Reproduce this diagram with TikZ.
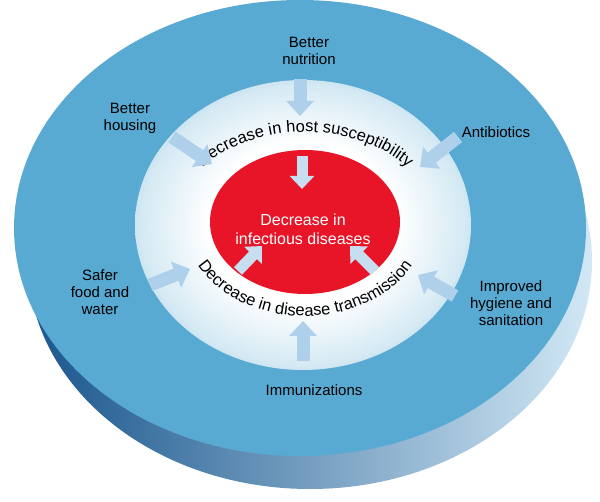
\documentclass[tikz,border=0pt]{standalone}
\usepackage{fontspec}
\setmainfont{Liberation Sans}
\usetikzlibrary{arrows.meta,decorations.text}
\definecolor{disk}{RGB}{88,170,210}
\definecolor{diskdark}{RGB}{25,85,140}
\definecolor{disklight}{RGB}{210,232,245}
\definecolor{redc}{RGB}{232,20,40}
\definecolor{arr}{RGB}{175,208,235}
\pgfdeclareradialshading{glow}{\pgfpoint{0bp}{0bp}}{color(0bp)=(white);color(14bp)=(white);color(24bp)=(white!75!disk);color(30bp)=(white!45!disk);color(35bp)=(disk);color(50bp)=(disk)}
\tikzset{
 lab/.style={font=\fontsize{15}{17}\selectfont, align=center, text=black},
 bigarr/.style={line width=13pt, arr, -{Triangle[length=15pt,width=27pt]}},
 smallarr/.style={line width=11pt, arr!70!white, -{Triangle[length=13pt,width=24pt]}},
}
\begin{document}
\begin{tikzpicture}[x=1pt,y=1pt]
\useasboundingbox (0,0) rectangle (600,501);
\fill[white] (0,0) rectangle (600,501);
% side of disk
\shade[left color=diskdark, right color=disklight] (310,240) ellipse [x radius=282, y radius=228];
\fill[disk] (300,273) ellipse [x radius=286, y radius=228];
% inner glow
\shade[shading=glow] (303,276) ellipse [x radius=168, y radius=145];
% red
\fill[redc] (305,279) ellipse [x radius=95, y radius=72];
\node[lab, text=white, font=\fontsize{16}{19}\selectfont] (red) at (303,272) {Decrease in\\infectious diseases};
% curved texts
\path[decorate, decoration={text along path, text align=center,
  text={|\fontsize{16.5}{18}\selectfont|Decrease in host susceptibility}}]
  (305,279) ++(175:129 and 90) arc[start angle=175, end angle=5, x radius=129, y radius=90];
\path[decorate, decoration={text along path, text align=center,
  text={|\fontsize{16.5}{18}\selectfont|Decrease in disease transmission}}]
  (305,279) ++(180:121 and 94) arc[start angle=180, end angle=360, x radius=121, y radius=94];
% labels
\node[lab] (nut) at (309,450) {Better\\nutrition};
\node[lab] (hou) at (130,383) {Better\\housing};
\node[lab] (ant) at (496,369) {Antibiotics};
\node[lab] (saf) at (100,209) {Safer\\food and\\water};
\node[lab] (hyg) at (511,198) {Improved\\hygiene and\\sanitation};
\node[lab] (imm) at (314,111) {Immunizations};
% outer arrows
\coordinate (a1s) at (300,422); \coordinate (a1e) at (300,385);
\coordinate (a2s) at (172,364); \coordinate (a2e) at (212,337);
\coordinate (a3s) at (458,364); \coordinate (a3e) at (420,334);
\coordinate (a4s) at (150,216); \coordinate (a4e) at (190,232);
\coordinate (a5s) at (455,205); \coordinate (a5e) at (418,226);
\coordinate (a6s) at (303,140); \coordinate (a6e) at (303,180);
\foreach \s/\e in {a1s/a1e,a2s/a2e,a3s/a3e,a4s/a4e,a5s/a5e,a6s/a6e}
  \draw[bigarr] (\s) -- (\e);
% inner arrows
\coordinate (b1s) at (302,345); \coordinate (b1e) at (302,312);
\coordinate (b2s) at (238,230); \coordinate (b2e) at (262,255);
\coordinate (b3s) at (375,230); \coordinate (b3e) at (350,255);
\foreach \s/\e in {b1s/b1e,b2s/b2e,b3s/b3e}
  \draw[smallarr] (\s) -- (\e);
\end{tikzpicture}
\end{document}
